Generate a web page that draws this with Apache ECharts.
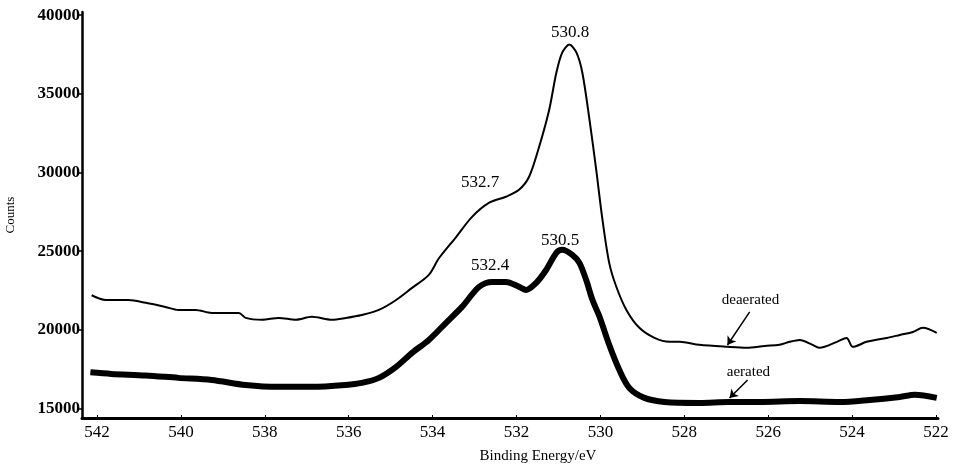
<!DOCTYPE html>
<html>
<head>
<meta charset="utf-8">
<script src="https://cdn.jsdelivr.net/npm/echarts@6/dist/echarts.min.js"></script>
<style>html,body{margin:0;padding:0;background:#fff}#c{width:955px;height:466px}</style>
</head>
<body>
<div id="c"></div>
<script>
// Binding energy (eV) and counts
const deaeratedEnergy = [542.13,541.80,541.25,540.84,540.37,540.06,539.65,539.27,538.62,538.46,538.07,537.67,537.26,536.88,536.40,536.07,535.69,535.28,534.87,534.49,534.09,533.85,533.44,533.06,532.65,532.25,531.94,531.70,531.46,531.22,531.05,530.91,530.74,530.57,530.43,530.26,530.10,529.95,529.79,529.62,529.38,529.07,528.71,528.35,528.11,527.64,526.97,526.51,526.08,525.73,525.49,525.25,524.94,524.77,524.36,524.13,523.98,523.65,523.17,522.86,522.55,522.31,521.98];
const deaeratedCounts = [22200,21900,21900,21720,21460,21270,21270,21080,21080,20760,20640,20760,20640,20830,20640,20760,20950,21270,21900,22670,23500,24550,25900,27180,28080,28460,28900,29730,31640,33990,36340,37620,38130,37620,36340,33360,30180,27000,24260,22740,21270,20130,19490,19240,19240,19050,18920,18860,18980,19050,19240,19360,19050,18860,19240,19490,18920,19240,19490,19680,19870,20130,19810];

const aeratedEnergy = [542.16,541.66,540.84,540.06,539.27,538.46,537.67,536.88,536.07,535.69,535.28,534.87,534.49,534.09,533.68,533.30,532.89,532.58,532.25,531.94,531.77,531.53,531.29,531.05,530.91,530.67,530.50,530.34,530.19,530.02,529.79,529.55,529.31,528.95,528.47,527.64,526.92,526.20,525.25,524.29,523.58,522.86,522.50,521.98];
const aeratedCounts = [17300,17200,17100,16950,16820,16500,16380,16380,16500,16630,16950,17650,18540,19360,20450,21460,22740,23050,23050,22740,22540,22990,23820,24900,25090,24770,24260,23180,21910,20830,19050,17460,16310,15680,15420,15360,15420,15420,15480,15420,15550,15740,15870,15680];

const xTickValues = [522,524,526,528,530,532,534,536,538,540,542];
const yTickValues = [15000,20000,25000,30000,35000,40000];

// Peak annotations: text and anchor [energy, counts]
const peakLabels = [
  {text:'530.8', at:[530.72,38890]},
  {text:'532.7', at:[532.87,29350]},
  {text:'530.5', at:[530.96,25660]},
  {text:'532.4', at:[532.63,24070]}
];
const seriesLabels = [
  {text:'deaerated', at:[526.42,21910], arrowFrom:[526.44,21140], arrowTo:[526.97,19040]},
  {text:'aerated', at:[526.47,17330], arrowFrom:[526.49,16820], arrowTo:[526.92,15670]}
];

const pair = (xs, ys) => xs.map((x,i)=>[x, ys[i]]);
const FONT = '"Liberation Serif", "DejaVu Serif", serif';

const textPoints = peakLabels.concat(seriesLabels).map(a => ({
  coord: a.at,
  label: {show:true, position:'inside', formatter:a.text, color:'#000',
          fontFamily:FONT, fontSize: a.arrowFrom ? 15 : 17}
}));

const chart = echarts.init(document.getElementById('c'), null, {renderer:'canvas'});
chart.setOption({
  animation:false,
  backgroundColor:'#fff',
  grid:{left:82, right:17, top:12, bottom:48, containLabel:false, outerBoundsMode:'none'},
  xAxis:{
    type:'value', inverse:true, min:521.95, max:542.36,
    name:'Binding Energy/eV', nameLocation:'middle', nameGap:31,
    nameTextStyle:{fontFamily:FONT, fontSize:15, color:'#000', padding:[0,0,0,56]},
    axisLine:{show:true, onZero:false, lineStyle:{color:'#000', width:3}},
    axisTick:{show:true, inside:true, length:3, customValues:xTickValues, lineStyle:{color:'#000', width:1}},
    axisLabel:{customValues:xTickValues, formatter:v => String(v), fontFamily:FONT, fontSize:17, color:'#000', margin:6},
    splitLine:{show:false}
  },
  yAxis:{
    type:'value', min:14400, max:40200,
    name:'Counts', nameLocation:'middle', nameGap:65, nameRotate:90,
    nameTextStyle:{fontFamily:FONT, fontSize:13, color:'#000'},
    axisLine:{show:true, onZero:false, lineStyle:{color:'#000', width:2.5}},
    axisTick:{show:true, inside:false, length:3, customValues:yTickValues, lineStyle:{color:'#000', width:1.5}},
    axisLabel:{customValues:yTickValues, formatter:v => String(v), fontFamily:FONT, fontSize:17, fontWeight:'bold', color:'#000', margin:2},
    splitLine:{show:false}
  },
  series:[
    {
      name:'deaerated', type:'line', data:pair(deaeratedEnergy, deaeratedCounts),
      showSymbol:false, smooth:0.3, lineStyle:{color:'#000', width:2},
      markPoint:{symbol:'circle', symbolSize:1, itemStyle:{color:'rgba(0,0,0,0)'}, data:textPoints},
      markLine:{
        silent:true, symbol:['none','arrow'], symbolSize:8,
        lineStyle:{color:'#000', width:1.5, type:'solid'}, label:{show:false},
        data: seriesLabels.map(s => [{coord:s.arrowFrom},{coord:s.arrowTo}])
      }
    },
    {
      name:'aerated', type:'line', data:pair(aeratedEnergy, aeratedCounts),
      showSymbol:false, smooth:0.3, lineStyle:{color:'#000', width:6}
    }
  ]
});
</script>
</body>
</html>
